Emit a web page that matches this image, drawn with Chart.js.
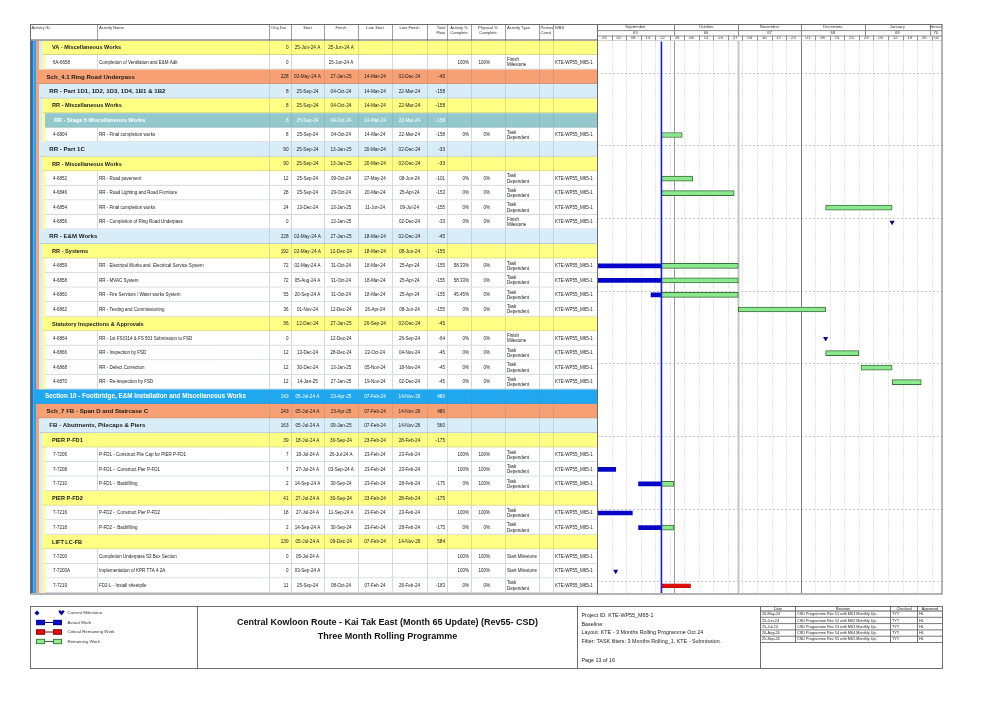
<!DOCTYPE html>
<html>
<head>
<meta charset="utf-8">
<title>Three Month Rolling Programme</title>
<script src="https://cdn.jsdelivr.net/npm/chart.js@4.4.1/dist/chart.umd.min.js"></script>
<style>
  html, body { margin: 0; padding: 0; background: #fff; }
  canvas { display: block; }
</style>
</head>
<body>
<canvas id="gantt" width="1001" height="708"></canvas>
<script>
// P6 style rolling programme page — table + gantt on one canvas
// table text is drawn by a plugin, bars / milestones come from the x/y scales

// --- rows, top to bottom ---
// sec = section, sch = schedule, part = part, grp = group, stg = stage, act = activity
const rowKind = ['grp','act','sch','part','grp','stg','act','part','grp','act','act','act','act','part','grp','act','act','act','act','grp','act','act','act','act','sec','sch','part','grp','act','act','act','grp','act','act','grp','act','act','act'];
const activityIds = ['','6A-6658','','','','','4-6804','','','4-6852','4-6846','4-6854','4-6856','','','4-6859','4-6858','4-6860','4-6862','','4-6864','4-6866','4-6868','4-6870','','','','','7-7206','7-7208','7-7210','','7-7216','7-7218','','7-7200','7-7200A','7-7219'];
const activityNames = [
  'VA - Miscellaneous Works', 'Completion of Ventilation and E&M Adit', 'Sch_4.1 Ring Road Underpass',
  'RR - Part 1D1, 1D2, 1D3, 1D4, 1B1 & 1B2', 'RR - Miscellaneous Works', 'RR - Stage 5 Miscellaneous Works',
  'RR - Final completion works', 'RR - Part 1C', 'RR - Miscellaneous Works', 'RR - Road pavement',
  'RR - Road Lighting and Road Furniture', 'RR - Final completion works', 'RR - Completion of Ring Road Underpass',
  'RR - E&M Works', 'RR - Systems', 'RR - Electrical Works and  Electrical Service System', 'RR - MVAC System',
  'RR - Fire Services / Water works System', 'RR - Testing and Commissioning', 'Statutory Inspections & Approvals',
  'RR - 1st FSI/314 & FS 501 Submission to FSD', 'RR - Inspection by FSD', 'RR - Defect Correction',
  'RR - Re-inspection by FSD', 'Section 10 - Footbridge, E&M Installation and Miscellaneous Works',
  'Sch_7 FB - Span D and Staircase C', 'FB - Abutments, Pilecaps & Piers', 'PIER P-FD1',
  'P-FD1 - Construct Pile Cap for PIER P-FD1', 'P-FD1 -  Construct Pier P-FD1', 'P-FD1 -  Backfilling',
  'PIER P-FD2', 'P-FD2 -  Construct Pier P-FD2', 'P-FD2 -  Backfilling', 'LIFT LC-FB',
  'Completion Underpass S3 Box Section', 'Implementation of KPR TTA 4.2A', 'FD2-L - Install sheetpile'
];
const origDur = [0,0,228,8,8,8,8,90,90,12,28,24,0,228,192,72,72,55,36,36,0,12,12,12,243,243,163,39,7,7,2,41,18,2,139,0,0,11];
const startDates = ['25-Jun-24 A','','02-May-24 A','25-Sep-24','25-Sep-24','25-Sep-24','25-Sep-24','25-Sep-24','25-Sep-24','25-Sep-24','25-Sep-24','13-Dec-24','','02-May-24 A','02-May-24 A','02-May-24 A','05-Aug-24 A','20-Sep-24 A','01-Nov-24','12-Dec-24','','13-Dec-24','30-Dec-24','14-Jan-25','05-Jul-24 A','05-Jul-24 A','05-Jul-24 A','18-Jul-24 A','18-Jul-24 A','27-Jul-24 A','14-Sep-24 A','27-Jul-24 A','27-Jul-24 A','14-Sep-24 A','05-Jul-24 A','05-Jul-24 A','03-Sep-24 A','25-Sep-24'];
const finishDates = ['25-Jun-24 A','25-Jun-24 A','27-Jan-25','04-Oct-24','04-Oct-24','04-Oct-24','04-Oct-24','13-Jan-25','13-Jan-25','09-Oct-24','29-Oct-24','13-Jan-25','13-Jan-25','27-Jan-25','12-Dec-24','31-Oct-24','31-Oct-24','31-Oct-24','12-Dec-24','27-Jan-25','12-Dec-24','28-Dec-24','13-Jan-25','27-Jan-25','23-Apr-25','23-Apr-25','09-Jan-25','30-Sep-24','26-Jul-24 A','03-Sep-24 A','30-Sep-24','30-Sep-24','11-Sep-24 A','30-Sep-24','09-Dec-24','','','08-Oct-24'];
const lateStarts = ['','','14-Mar-24','14-Mar-24','14-Mar-24','14-Mar-24','14-Mar-24','20-Mar-24','20-Mar-24','27-May-24','20-Mar-24','11-Jun-24','','18-Mar-24','18-Mar-24','18-Mar-24','18-Mar-24','18-Mar-24','26-Apr-24','26-Sep-24','','22-Oct-24','05-Nov-24','19-Nov-24','07-Feb-24','07-Feb-24','07-Feb-24','23-Feb-24','23-Feb-24','23-Feb-24','23-Feb-24','23-Feb-24','23-Feb-24','23-Feb-24','07-Feb-24','','','07-Feb-24'];
const lateFinishes = ['','','02-Dec-24','22-Mar-24','22-Mar-24','22-Mar-24','22-Mar-24','02-Dec-24','02-Dec-24','08-Jun-24','25-Apr-24','09-Jul-24','02-Dec-24','02-Dec-24','08-Jun-24','25-Apr-24','25-Apr-24','25-Apr-24','08-Jun-24','02-Dec-24','26-Sep-24','04-Nov-24','18-Nov-24','02-Dec-24','14-Nov-26','14-Nov-26','14-Nov-26','28-Feb-24','23-Feb-24','23-Feb-24','28-Feb-24','28-Feb-24','23-Feb-24','28-Feb-24','14-Nov-26','','','26-Feb-24'];
const totalFloat = [null,null,-45,-158,-158,-158,-158,-33,-33,-101,-153,-155,-33,-45,-155,-155,-155,-155,-155,-45,-64,-45,-45,-45,480,480,560,-175,null,null,-175,-175,null,-175,584,null,null,-183];
const activityPct = ['','100%','','','','','0%','','','0%','0%','0%','0%','','','58.33%','58.33%','45.45%','0%','','0%','0%','0%','0%','','','','','100%','100%','0%','','100%','0%','','100%','100%','0%'];
const physicalPct = ['','100%','','','','','0%','','','0%','0%','0%','0%','','','0%','0%','0%','0%','','0%','0%','0%','0%','','','','','100%','100%','100%','','100%','0%','','100%','100%','0%'];
const activityType = ['','Finish\nMilestone','','','','','Task\nDependent','','','Task\nDependent','Task\nDependent','Task\nDependent','Finish\nMilestone','','','Task\nDependent','Task\nDependent','Task\nDependent','Task\nDependent','','Finish\nMilestone','Task\nDependent','Task\nDependent','Task\nDependent','','','','','Task\nDependent','Task\nDependent','Task\nDependent','','Task\nDependent','Task\nDependent','','Start Milestone','Start Milestone','Task\nDependent'];
const WBS_CODE = 'KTE-WP55_M65-1';

// --- gantt bars: [activity, from, to] ---
const DATA_DATE = '25-Sep-24';
// actual work runs up to the data date or the actual finish
const actualWork = [
  ['4-6859', '02-May-24', '25-Sep-24'],
  ['4-6858', '05-Aug-24', '25-Sep-24'],
  ['4-6860', '20-Sep-24', '25-Sep-24'],
  ['7-7206', '18-Jul-24', '26-Jul-24'],
  ['7-7208', '27-Jul-24', '03-Sep-24'],
  ['7-7210', '14-Sep-24', '25-Sep-24'],
  ['7-7216', '27-Jul-24', '11-Sep-24'],
  ['7-7218', '14-Sep-24', '25-Sep-24']
];
// remaining work, finish day included
const remainingWork = [
  ['4-6804', '25-Sep-24', '04-Oct-24'],
  ['4-6852', '25-Sep-24', '09-Oct-24'],
  ['4-6846', '25-Sep-24', '29-Oct-24'],
  ['4-6854', '13-Dec-24', '13-Jan-25'],
  ['4-6859', '25-Sep-24', '31-Oct-24'],
  ['4-6858', '25-Sep-24', '31-Oct-24'],
  ['4-6860', '25-Sep-24', '31-Oct-24'],
  ['4-6862', '01-Nov-24', '12-Dec-24'],
  ['4-6866', '13-Dec-24', '28-Dec-24'],
  ['4-6868', '30-Dec-24', '13-Jan-25'],
  ['4-6870', '14-Jan-25', '27-Jan-25'],
  ['7-7210', '25-Sep-24', '30-Sep-24'],
  ['7-7218', '25-Sep-24', '30-Sep-24']
];
const criticalWork = [
  ['7-7219', '25-Sep-24', '08-Oct-24']
];
// milestones: S = start of day, F = end of day
const milestones = [
  ['4-6856', '13-Jan-25', 'F'],
  ['4-6864', '12-Dec-24', 'F'],
  ['7-7200', '05-Jul-24', 'S'],
  ['7-7200A', '03-Sep-24', 'S']
];

// --- timescale ---
const VIEW_FROM = '25-Aug-24';
const VIEW_TO = '07-Feb-25';
const monthNames = ['September', 'October', 'November', 'December', 'January', 'February'];
const monthNumbers = ['65', '66', '67', '68', '69', '70'];
const monthStarts = ['25-Aug-24', '01-Oct-24', '01-Nov-24', '01-Dec-24', '01-Jan-25', '01-Feb-25'];
const weekLabels = ['25','01','08','15','22','29','06','13','20','27','03','10','17','24','01','08','15','22','29','05','12','19','26','02'];

// --- footer ---
const legendItems = ['Current Milestone', 'Actual Work', 'Critical Remaining Work', 'Remaining Work'];
const titleLines = ['Central Kowloon Route - Kai Tak East (Month 65 Update) (Rev55- CSD)', 'Three Month Rolling Programme'];
const infoLines = ['Project ID: KTE-WP55_M65-1', 'Baseline:', 'Layout: KTE - 3 Months Rolling Programme Oct 24', 'Filter: TASK filters: 3 Months Rolling_1, KTE - Submission.'];
const pageText = 'Page 13 of 16';
const revDates = ['20-May-24', '25-Jun-24', '25-Jul-24', '20-Aug-24', '25-Sep-24'];
const revTexts = ['CSD Programme Rev 51 with M61 Monthly Up..', 'CSD Programme Rev 52 with M62 Monthly Up..', 'CSD Programme Rev 53 with M63 Monthly Up..', 'CSD Programme Rev 54 with M64 Monthly Up..', 'CSD Programme Rev 55 with M65 Monthly Up..'];
const revChecked = ['TYY', 'TYY', 'TYY', 'TYY', 'TYY'];
const revApproved = ['HL', 'HL', 'HL', 'HL', 'HL'];

// ---------------------------------
// date helpers
// ---------------------------------
const MON = { Jan: 0, Feb: 1, Mar: 2, Apr: 3, May: 4, Jun: 5, Jul: 6, Aug: 7, Sep: 8, Oct: 9, Nov: 10, Dec: 11 };
function toUTC(s) {
  const [d, m, y] = s.split('-');
  return Date.UTC(2000 + parseInt(y, 10), MON[m], parseInt(d, 10));
}
const ORIGIN = toUTC(VIEW_FROM);
const dayNum = s => (toUTC(s) - ORIGIN) / 864e5;

// bar data per row
const rowLabels = rowKind.map((k, i) => activityIds[i] || activityNames[i]);
function barsFor(list, inclusive) {
  return activityIds.map(id => {
    const hit = list.find(b => b[0] === id && id);
    if (!hit) return null;
    return [dayNum(hit[1]), dayNum(hit[2]) + (inclusive ? 1 : 0)];
  });
}
const actualData = barsFor(actualWork, false);
const remainingData = barsFor(remainingWork, true);
const criticalData = barsFor(criticalWork, true);
const milestoneData = activityIds.map(id => {
  const m = milestones.find(v => v[0] === id && id);
  return m ? dayNum(m[1]) + (m[2] === 'F' ? 1 : 0) : null;
});

// ---------------------------------
// layout / styles
// ---------------------------------
const FONT = '"Liberation Sans", Arial, sans-serif';
const COL = { id: 30, name: 97, dur: 269, start: 291, finish: 324, lstart: 358, lfinish: 392, tf: 427, apc: 447, ppc: 471, type: 505, prim: 539, wbs: 553, end: 597 };
const COL_LINES = [COL.name, COL.dur, COL.start, COL.finish, COL.lstart, COL.lfinish, COL.tf, COL.apc, COL.ppc, COL.type, COL.prim, COL.wbs];
const ROW_STYLE = {
  sec:  { bg: '#1fa7ef', x: 33.4, fg: '#ffffff', font: 'bold 6.3px', tx: 45 },
  sch:  { bg: '#f7a073', x: 36,   fg: '#1a1a1a', font: 'bold 6.1px', tx: 46.5 },
  part: { bg: '#d8edf8', x: 39.3, fg: '#1a1a1a', font: 'bold 6.1px', tx: 49.3 },
  grp:  { bg: '#ffff84', x: 42.7, fg: '#1a1a1a', font: 'bold 5.6px', tx: 52 },
  stg:  { bg: '#93c9cc', x: 45,   fg: '#ffffff', font: 'bold 5.6px', tx: 54 },
  act:  { bg: '#ffffff', x: 45,   fg: '#222222', font: '4.5px', tx: 53 }
};
const STRIPES = [[30, 31.7, '#14145e'], [31.7, 33.4, '#2f6fd8'], [33.4, 36, '#1fa7ef'], [36, 39.3, '#f7a073'], [39.3, 42.7, '#d8edf8'], [42.7, 45, '#ffff84']];
const HEAD_TOP = 24.5;

function put(ctx, s, x, y, font, color, align) {
  if (s === '' || s === null || s === undefined) return;
  ctx.font = font + ' ' + FONT;
  ctx.fillStyle = color;
  ctx.textAlign = align || 'left';
  ctx.textBaseline = 'middle';
  ctx.fillText(String(s), x, y);
}
function putClipped(ctx, s, x, y, font, color, align, l, r) {
  ctx.save();
  ctx.beginPath();
  ctx.rect(l, y - 8, r - l, 16);
  ctx.clip();
  put(ctx, s, x, y, font, color, align);
  ctx.restore();
}
function hline(ctx, x1, x2, y, color, w, dash) {
  ctx.save();
  ctx.strokeStyle = color; ctx.lineWidth = w || 1; ctx.setLineDash(dash || []);
  ctx.beginPath(); ctx.moveTo(x1, y); ctx.lineTo(x2, y); ctx.stroke();
  ctx.restore();
}
function vline(ctx, x, y1, y2, color, w, dash) {
  ctx.save();
  ctx.strokeStyle = color; ctx.lineWidth = w || 1; ctx.setLineDash(dash || []);
  ctx.beginPath(); ctx.moveTo(x, y1); ctx.lineTo(x, y2); ctx.stroke();
  ctx.restore();
}

// ---------------------------------
// sheet plugin: table, timescale, grid, footer
// ---------------------------------
const sheetPlugin = {
  id: 'sheet',
  beforeDatasetsDraw(chart) {
    const { ctx, chartArea: ca, scales: { x, y } } = chart;
    const rowH = y.getPixelForValue(1) - y.getPixelForValue(0);
    const top = ca.top, bottom = ca.bottom;

    // left colour stripes
    STRIPES.forEach(([a, b, c]) => { ctx.fillStyle = c; ctx.fillRect(a, top, b - a, bottom - top); });

    // table rows
    rowKind.forEach((kind, i) => {
      const st = ROW_STYLE[kind];
      const yc = y.getPixelForValue(i);
      const rt = yc - rowH / 2;
      ctx.fillStyle = st.bg;
      ctx.fillRect(st.x, rt, COL.end - st.x, rowH);
      const lineCol = kind === 'act' ? '#d2d8de' : 'rgba(120,130,140,0.25)';
      (kind === 'act' ? COL_LINES : COL_LINES.slice(1)).forEach(cx => vline(ctx, cx + 0.5, rt, rt + rowH, lineCol, 1));
      hline(ctx, st.x, COL.end, rt + rowH - 0.5, kind === 'act' ? '#d2d8de' : 'rgba(120,130,140,0.3)', 1);

      const fg = st.fg;
      const vf = kind === 'act' ? '4.5px' : '4.7px';
      if (kind === 'act') {
        put(ctx, activityIds[i], st.tx, yc, st.font, fg);
        putClipped(ctx, activityNames[i], 99, yc, st.font, fg, 'left', COL.name, COL.dur - 1);
      } else {
        putClipped(ctx, activityNames[i], st.tx, yc, st.font, fg, 'left', st.x, COL.dur - 3);
      }
      put(ctx, origDur[i], COL.start - 2.5, yc, vf, fg, 'right');
      put(ctx, startDates[i], (COL.start + COL.finish) / 2, yc, vf, fg, 'center');
      put(ctx, finishDates[i], (COL.finish + COL.lstart) / 2, yc, vf, fg, 'center');
      put(ctx, lateStarts[i], (COL.lstart + COL.lfinish) / 2, yc, vf, fg, 'center');
      put(ctx, lateFinishes[i], (COL.lfinish + COL.tf) / 2, yc, vf, fg, 'center');
      put(ctx, totalFloat[i], COL.apc - 2, yc, vf, fg, 'right');
      put(ctx, activityPct[i], COL.ppc - 2, yc, vf, fg, 'right');
      put(ctx, physicalPct[i], COL.ppc + 19, yc, vf, fg, 'right');
      const lines = activityType[i].split('\n');
      lines.forEach((ln, k) => put(ctx, ln, COL.type + 2, lines.length > 1 ? yc - 2.5 + k * 5.2 : yc, vf, fg));
      if (kind === 'act') putClipped(ctx, WBS_CODE, COL.wbs + 2, yc, vf, fg, 'left', COL.wbs, COL.end - 1);
    });

    // table header
    ctx.fillStyle = '#ffffff';
    ctx.fillRect(30, HEAD_TOP, COL.end - 30, top - HEAD_TOP);
    const hy = HEAD_TOP + 3.5, hy2 = HEAD_TOP + 8;
    const hf = '4.1px', hc = '#333333';
    put(ctx, 'Activity ID', 31.5, hy, hf, hc);
    put(ctx, 'Activity Name', 99, hy, hf, hc);
    put(ctx, 'Orig Dur', 271, hy, hf, hc);
    put(ctx, 'Start', (COL.start + COL.finish) / 2, hy, hf, hc, 'center');
    put(ctx, 'Finish', (COL.finish + COL.lstart) / 2, hy, hf, hc, 'center');
    put(ctx, 'Late Start', (COL.lstart + COL.lfinish) / 2, hy, hf, hc, 'center');
    put(ctx, 'Late Finish', (COL.lfinish + COL.tf) / 2, hy, hf, hc, 'center');
    put(ctx, 'Total', COL.apc - 1.5, hy, hf, hc, 'right');
    put(ctx, 'Float', COL.apc - 1.5, hy2, hf, hc, 'right');
    put(ctx, 'Activity %', (COL.apc + COL.ppc) / 2, hy, hf, hc, 'center');
    put(ctx, 'Complete', (COL.apc + COL.ppc) / 2, hy2, hf, hc, 'center');
    put(ctx, 'Physical %', (COL.ppc + COL.type) / 2, hy, hf, hc, 'center');
    put(ctx, 'Complete', (COL.ppc + COL.type) / 2, hy2, hf, hc, 'center');
    put(ctx, 'Activity Type', COL.type + 2, hy, hf, hc);
    put(ctx, 'Primav', COL.prim + 1.5, hy, hf, hc);
    put(ctx, 'Const', COL.prim + 1.5, hy2, hf, hc);
    put(ctx, 'WBS', COL.wbs + 2, hy, hf, hc);
    COL_LINES.forEach(cx => vline(ctx, cx + 0.5, HEAD_TOP, top, '#9aa0a6', 1));
    hline(ctx, 30, ca.right, top - 0.5, '#555555', 1.2);

    // gantt grid
    ctx.save();
    ctx.beginPath(); ctx.rect(ca.left, top, ca.right - ca.left, bottom - top); ctx.clip();
    weekLabels.forEach((w, k) => { if (k) vline(ctx, Math.round(x.getPixelForValue(k * 7)) + 0.5, top, bottom, '#c8c8c8', 1, [1, 2]); });
    // sight lines every 5 rows, sitting a little below the row edge
    for (let r = 2; r < rowKind.length; r += 5) {
      const ry = Math.round(y.getPixelForValue(r) - rowH / 2 + 3) + 0.5;
      hline(ctx, ca.left, ca.right, ry, '#c8c8c8', 1, [2, 2]);
    }
    const monthLine = [null, ['#9c9c9c', 1], ['#c6c6c6', 2], ['#7c7c7c', 1]];
    monthLine.forEach((s, k) => { if (s) vline(ctx, Math.round(x.getPixelForValue(dayNum(monthStarts[k]))) + 0.5, top, bottom, s[0], s[1]); });
    ctx.restore();

    // timescale header
    const r1 = HEAD_TOP, r2 = HEAD_TOP + 5.6, r3 = HEAD_TOP + 11, r4 = top;
    ctx.fillStyle = '#ffffff';
    ctx.fillRect(ca.left, r1, ca.right - ca.left, r4 - r1);
    const tf = '4.2px', tc = '#333333';
    monthNames.forEach((m, k) => {
      const a = Math.max(ca.left, x.getPixelForValue(dayNum(monthStarts[k])));
      const b = k + 1 < monthStarts.length ? x.getPixelForValue(dayNum(monthStarts[k + 1])) : ca.right;
      if (k) vline(ctx, Math.round(a) + 0.5, r1, r3, '#8a8a8a', 1);
      putClipped(ctx, m, (a + b) / 2, (r1 + r2) / 2, tf, tc, 'center', a, b);
      putClipped(ctx, monthNumbers[k], (a + b) / 2, (r2 + r3) / 2, tf, tc, 'center', a, b);
    });
    weekLabels.forEach((w, k) => {
      const a = x.getPixelForValue(k * 7);
      const b = Math.min(ca.right, x.getPixelForValue(k * 7 + 7));
      if (k) vline(ctx, Math.round(a) + 0.5, r3, r4, '#8a8a8a', 1);
      put(ctx, w, (a + b) / 2, (r3 + r4) / 2, tf, tc, 'center');
    });
    hline(ctx, ca.left, ca.right, r2 + 0.5, '#8a8a8a', 1);
    hline(ctx, ca.left, ca.right, r3 + 0.5, '#8a8a8a', 1);
  },

  afterDatasetsDraw(chart) {
    const { ctx, chartArea: ca, scales: { x } } = chart;
    // data date line
    const dx = x.getPixelForValue(dayNum(DATA_DATE));
    vline(ctx, dx, ca.top + 1, ca.bottom, '#1c1cd6', 1.6);

    // frame
    ctx.save();
    ctx.strokeStyle = '#6a6a6a'; ctx.lineWidth = 1;
    ctx.strokeRect(30.5, HEAD_TOP, ca.right - 30.5, ca.bottom + 1 - HEAD_TOP);
    ctx.restore();
    vline(ctx, COL.end + 0.5, HEAD_TOP, ca.bottom + 1, '#6a6a6a', 1);

    // footer box
    const fTop = 606, fBot = 668;
    const fx = [30.5, 197.5, 577.5, 760.5, 942.5];
    ctx.save();
    ctx.strokeStyle = '#6e6e6e'; ctx.lineWidth = 1;
    ctx.strokeRect(fx[0], fTop + 0.5, fx[4] - fx[0], fBot - fTop);
    ctx.restore();
    vline(ctx, fx[1], fTop, fBot, '#6e6e6e', 1);
    vline(ctx, fx[2], fTop, fBot, '#6e6e6e', 1);
    vline(ctx, fx[3], fTop, fBot, '#6e6e6e', 1);

    // legend
    const ly = [613, 622.5, 632, 641.5];
    ctx.fillStyle = '#0a0a9a';
    ctx.beginPath(); ctx.moveTo(37, ly[0] - 2.6); ctx.lineTo(39.6, ly[0]); ctx.lineTo(37, ly[0] + 2.6); ctx.lineTo(34.4, ly[0]); ctx.closePath(); ctx.fill();
    ctx.beginPath(); ctx.arc(60, ly[0] - 1.2, 1.5, Math.PI, 0); ctx.arc(63, ly[0] - 1.2, 1.5, Math.PI, 0); ctx.lineTo(61.5, ly[0] + 2.6); ctx.closePath(); ctx.fill();
    const swatch = [null, ['#0a0ad0', '#0a0a80'], ['#e01010', '#800000'], ['#90ec90', '#2e6e2e']];
    swatch.forEach((s, k) => {
      if (!s) return;
      const yy = ly[k];
      hline(ctx, 45, 53, yy, s[1], 1);
      [[36, 45], [53, 62]].forEach(([a, b]) => {
        ctx.fillStyle = s[0]; ctx.fillRect(a, yy - 2.6, b - a, 5.2);
        ctx.strokeStyle = s[1]; ctx.lineWidth = 0.8; ctx.strokeRect(a + 0.4, yy - 2.2, b - a - 0.8, 4.4);
      });
    });
    legendItems.forEach((t, k) => put(ctx, t, 67.5, ly[k], '4.4px', '#333333'));

    // title
    put(ctx, titleLines[0], (fx[1] + fx[2]) / 2, 623, 'bold 9px', '#111111', 'center');
    put(ctx, titleLines[1], (fx[1] + fx[2]) / 2, 637, 'bold 9px', '#111111', 'center');

    // info block
    const iy = [615.5, 624.2, 632.8, 641.4];
    infoLines.forEach((t, k) => put(ctx, t, 581.5, iy[k], '5.4px', '#222222'));
    put(ctx, pageText, 581.5, 660.5, '5.4px', '#222222');

    // revision table
    const rx = [760.5, 795.5, 890.5, 917.5, 942.5];
    const rTop = 606.5, rHead = 611, rStep = 6.3;
    const rBot = rHead + rStep * revDates.length;
    hline(ctx, rx[0], rx[4], rHead, '#555555', 1);
    revDates.forEach((d, k) => hline(ctx, rx[0], rx[4], rHead + rStep * (k + 1), '#555555', 0.8));
    rx.slice(1, 4).forEach(cx => vline(ctx, cx, rTop, rBot, '#555555', 0.8));
    const rf = '3.8px', rc = '#222222';
    put(ctx, 'Date', (rx[0] + rx[1]) / 2, (rTop + rHead) / 2, rf, rc, 'center');
    put(ctx, 'Revision', (rx[1] + rx[2]) / 2, (rTop + rHead) / 2, rf, rc, 'center');
    put(ctx, 'Checked', (rx[2] + rx[3]) / 2, (rTop + rHead) / 2, rf, rc, 'center');
    put(ctx, 'Approved', (rx[3] + rx[4]) / 2, (rTop + rHead) / 2, rf, rc, 'center');
    revDates.forEach((d, k) => {
      const yy = rHead + rStep * (k + 0.5);
      put(ctx, d, rx[0] + 1.5, yy, rf, rc);
      put(ctx, revTexts[k], rx[1] + 1.5, yy, rf, rc);
      put(ctx, revChecked[k], rx[2] + 1.5, yy, rf, rc);
      put(ctx, revApproved[k], rx[3] + 1.5, yy, rf, rc);
    });
  }
};

// ---------------------------------
// chart
// ---------------------------------
new Chart(document.getElementById('gantt'), {
  type: 'bar',
  data: {
    labels: rowLabels,
    datasets: [
      { label: 'Actual Work', data: actualData, backgroundColor: '#0606c8', barThickness: 4, grouped: false },
      { label: 'Remaining Work', data: remainingData, backgroundColor: '#8ce88c', borderColor: '#3a6f3a', borderWidth: 1, borderSkipped: false, barThickness: 5, grouped: false },
      { label: 'Critical Remaining Work', data: criticalData, backgroundColor: '#e20e0e', borderColor: '#a00000', borderWidth: 0.6, borderSkipped: false, barThickness: 4, grouped: false },
      { type: 'line', label: 'Current Milestone', data: milestoneData, indexAxis: 'y', showLine: false,
        pointStyle: 'triangle', rotation: 180, pointRadius: 3, pointBackgroundColor: '#0a0a8a', pointBorderWidth: 0 }
    ]
  },
  options: {
    indexAxis: 'y',
    responsive: false,
    animation: false,
    devicePixelRatio: 1,
    layout: { padding: { left: 597, right: 59, top: 40.5, bottom: 115 } },
    scales: {
      x: { type: 'linear', min: 0, max: dayNum(VIEW_TO), display: false },
      y: { type: 'category', offset: true, display: false }
    },
    plugins: { legend: { display: false }, tooltip: { enabled: false } }
  },
  plugins: [sheetPlugin]
});
</script>
</body>
</html>
